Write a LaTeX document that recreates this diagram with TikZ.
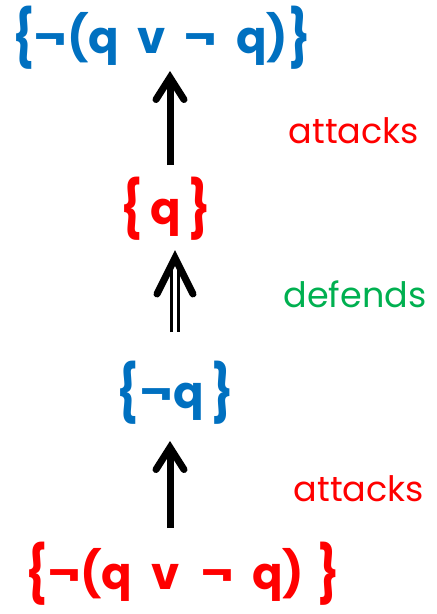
\documentclass[tikz,border=0pt]{standalone}
\usepackage{fontspec}
\setmainfont{Poppins}
\usetikzlibrary{arrows.meta}
\definecolor{setblue}{HTML}{0070C0}
\definecolor{setred}{HTML}{FF0000}
\definecolor{setgreen}{HTML}{00B050}
% tall set braces
\newcommand\lbr{\raisebox{-4pt}{\scalebox{1}[1.25]{\{}}}
\newcommand\rbr{\raisebox{-4pt}{\scalebox{1}[1.25]{\}}}}
\newcommand\gap{\hspace{0.42em}}
\begin{document}
\begin{tikzpicture}[x=1pt,y=-1pt,
  argset/.style={inner sep=0pt, font=\fontsize{45}{52}\selectfont\bfseries},
  relation/.style={inner sep=0pt, font=\fontsize{35}{40}\selectfont},
  attack/.style={line width=7pt, draw=black,
    -{Straight Barb[length=22pt, width=28pt, line cap=round, line join=miter]}},
  shaft/.style={draw=black, line width=3pt, double=white, double distance=4pt},
  barb/.style={draw=black, line width=7pt, line cap=round, line join=miter}]
\useasboundingbox (0,0) rectangle (437,614);

% arguments
\node[argset, text=setblue] (top) at (161.5,38) {\lbr¬(q\gap v\gap ¬\gap q)\rbr};
\node[argset, text=setred]  (q)   at (166,209)  {\lbr\,q\,\rbr};
\node[argset, text=setblue] (nq)  at (175,393)  {\lbr\hspace{2pt}¬q\,\rbr};
\node[argset, text=setred]  (bot) at (183,574)  {\lbr¬(q\gap v\gap\hspace{3pt}¬\gap q)\hspace{0.3em}\rbr};

% relation labels
\node[relation, text=setred]   (att1) at (354,131) {attacks};
\node[relation, text=setgreen] (def)  at (355,294) {defends};
\node[relation, text=setred]   (att2) at (359,489) {attacks};

% connector end points
\coordinate (a1s) at (170,165);
\coordinate (a1t) at (170,71);
\coordinate (dsb) at (175,332);
\coordinate (dst) at (175,262);
\coordinate (dtip) at (175,258);
\coordinate (dl) at (157,294);
\coordinate (dr) at (193,294);
\coordinate (a2s) at (170,528);
\coordinate (a2t) at (170,441);

% {q} attacks the top set, {¬q} attacks the bottom set
\draw[attack] (a1s) -- (a1t);
\draw[attack] (a2s) -- (a2t);
% {¬q} defends {q}
\draw[shaft] (dsb) -- (dst);
\draw[barb] (dl) -- (dtip) -- (dr);
\end{tikzpicture}
\end{document}
